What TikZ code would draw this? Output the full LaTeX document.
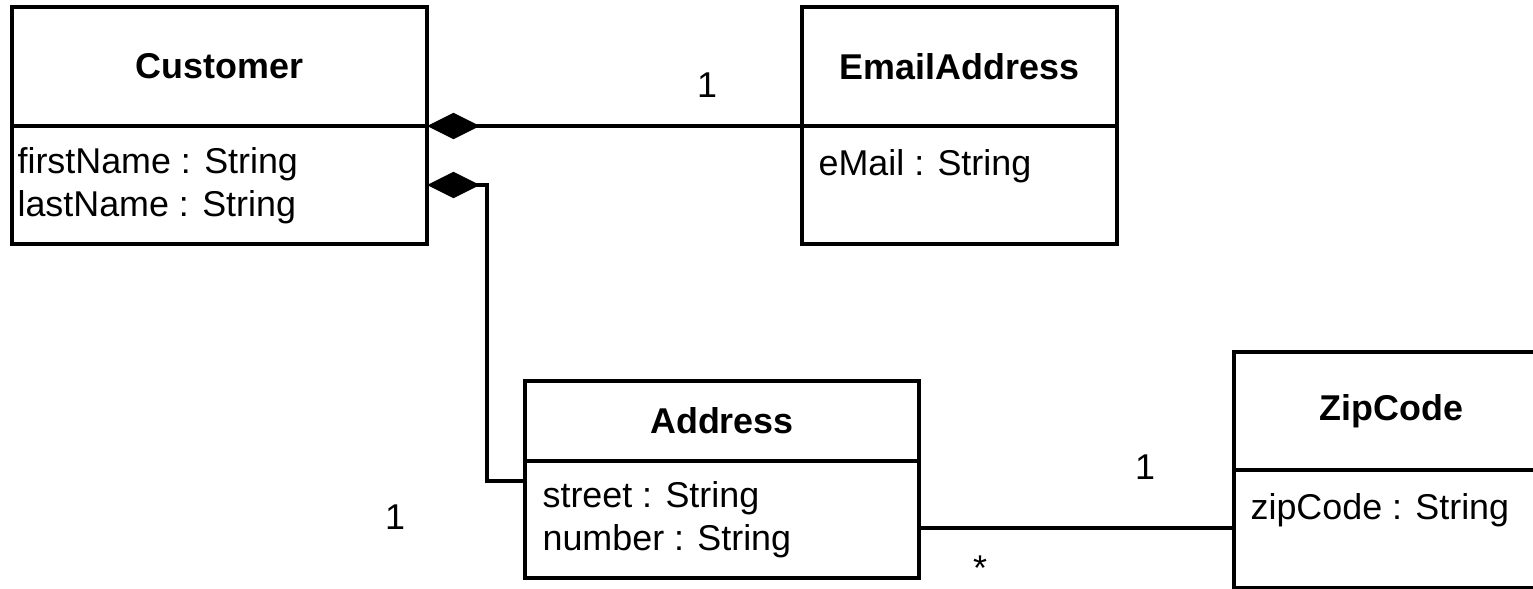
\documentclass[tikz,border=0pt]{standalone}
\usepackage{fontspec}
\setmainfont{Liberation Sans}
\usetikzlibrary{positioning,arrows.meta}

\begin{document}
\begin{tikzpicture}[x=0.01cm,y=-0.01cm,
  font=\fontsize{10.2}{12.2}\selectfont,
  clshead/.style={draw,line width=1pt,outer sep=0pt,inner sep=0pt,
    font=\fontsize{10.2}{12.2}\selectfont\bfseries},
  clsbody/.style={draw,line width=1pt,outer sep=0pt,inner sep=0pt},
  attr/.style={anchor=north west,align=left,inner sep=0pt},
  mult/.style={inner sep=0pt},
  comp/.style={line width=1pt,-{Diamond[length=15pt,width=7.5pt]}},
  assoc/.style={line width=1pt}]
\useasboundingbox (0,0) rectangle (1533,589);

% classes
\node[clshead,minimum width=4.15cm,minimum height=1.19cm] (custH) at (219.5,66.5) {Customer};
\node[clsbody,minimum width=4.15cm,minimum height=1.18cm,below=0pt of custH] (custB) {};
\node[attr] (custA) at ([xshift=0.05cm,yshift=-0.21cm]custB.north west)
  {firstName : String\\lastName : String};

\node[clshead,minimum width=3.15cm,minimum height=1.19cm] (mailH) at (959.5,66.5) {EmailAddress};
\node[clsbody,minimum width=3.15cm,minimum height=1.18cm,below=0pt of mailH] (mailB) {};
\node[attr] (mailA) at ([xshift=0.16cm,yshift=-0.23cm]mailB.north west) {eMail : String};

\node[clshead,minimum width=3.94cm,minimum height=0.80cm] (addrH) at (722,421) {Address};
\node[clsbody,minimum width=3.94cm,minimum height=1.17cm,below=0pt of addrH] (addrB) {};
\node[attr] (addrA) at ([xshift=0.17cm,yshift=-0.2cm]addrB.north west)
  {street : String\\number : String};

\node[clshead,minimum width=3.15cm,minimum height=1.18cm] (zipH) at (1391.5,411) {ZipCode};
\node[clsbody,minimum width=3.15cm,minimum height=1.18cm,below=0pt of zipH] (zipB) {};
\node[attr] (zipA) at ([xshift=0.16cm,yshift=-0.23cm]zipB.north west) {zipCode : String};

% connectors
\draw[comp] (mailH.south west) -- (custH.south east);
\draw[comp] ([yshift=-0.2cm]addrB.north west) -- ++(-38,0) |- (custB.east);
\coordinate (zipEnd) at ([yshift=-0.085cm]addrB.east);
\draw[assoc] (zipEnd) -- (zipEnd -| zipB.west);

% multiplicities
\node[mult] (m1) at (707,85) {1};
\node[mult] (m2) at (395,517) {1};
\node[mult] (m3) at (1145,467) {1};
\node[mult] (m4) at (980,568) {*};
\end{tikzpicture}
\end{document}
